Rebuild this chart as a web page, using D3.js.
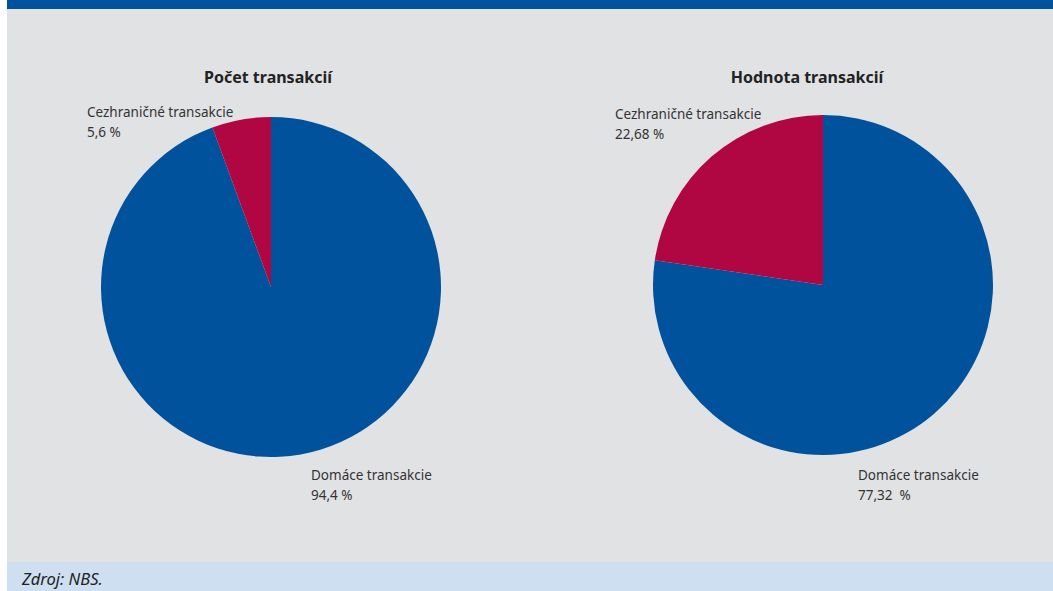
<!DOCTYPE html>
<html><head><meta charset="utf-8">
<script src="https://cdn.jsdelivr.net/npm/d3@7"></script>
<style>body{margin:0;background:#fff;}svg{display:block;font-family:"Noto Sans",sans-serif;}</style>
</head><body>
<svg id="c" width="1053" height="591"></svg>
<script>
const categories = ["Domáce transakcie", "Cezhraničné transakcie"];
const countValues = [94.4, 5.6];
const valueValues = [77.32, 22.68];
const countLabels = ["94,4 %", "5,6 %"];
const valueLabels = ["77,32  %", "22,68 %"];
const titles = ["Počet transakcií", "Hodnota transakcií"];
const colors = ["#00529c", "#b00641"];

const svg = d3.select("#c");
svg.append("rect").attr("x",7).attr("y",0).attr("width",1046).attr("height",591).attr("fill","#e1e2e4");
svg.append("rect").attr("x",7).attr("y",0).attr("width",1046).attr("height",9).attr("fill","#00529c");
svg.append("rect").attr("x",7).attr("y",562).attr("width",1046).attr("height",29).attr("fill","#cddff0");
svg.append("text").attr("x",22).attr("y",585).attr("font-size",16.5).attr("font-style","italic").attr("fill","#222").text("Zdroj: NBS.");

const color = d3.scaleOrdinal().domain(categories).range(colors);
const pie = d3.pie().sort(null).value(d=>d.v);
const arc = d3.arc().innerRadius(0).outerRadius(170);

const panels = [
  {cx:271, cy:287, vals:countValues, labs:countLabels, title:titles[0], tx:268,
   lab:[{x:311,y:480},{x:87,y:117}]},
  {cx:823, cy:285, vals:valueValues, labs:valueLabels, title:titles[1], tx:807,
   lab:[{x:858,y:480},{x:615,y:119}]}
];
panels.forEach(p=>{
  const data = categories.map((c,i)=>({c, v:p.vals[i], l:p.labs[i]}));
  const g = svg.append("g").attr("transform",`translate(${p.cx},${p.cy})`);
  g.selectAll("path").data(pie(data)).enter().append("path")
    .attr("d",arc).attr("fill",d=>color(d.data.c)).attr("stroke","none");
  svg.append("text").attr("x",p.tx).attr("y",83).attr("text-anchor","middle")
    .attr("font-size",16).attr("font-weight","bold").attr("fill","#222").text(p.title);
  data.forEach((d,i)=>{
    const t = svg.append("text").attr("x",p.lab[i].x).attr("y",p.lab[i].y).attr("font-size",13.5).attr("fill","#333");
    t.append("tspan").attr("x",p.lab[i].x).text(d.c);
    t.append("tspan").attr("x",p.lab[i].x).attr("dy",20).style("white-space","pre").text(d.l);
  });
});
</script>
</body></html>
